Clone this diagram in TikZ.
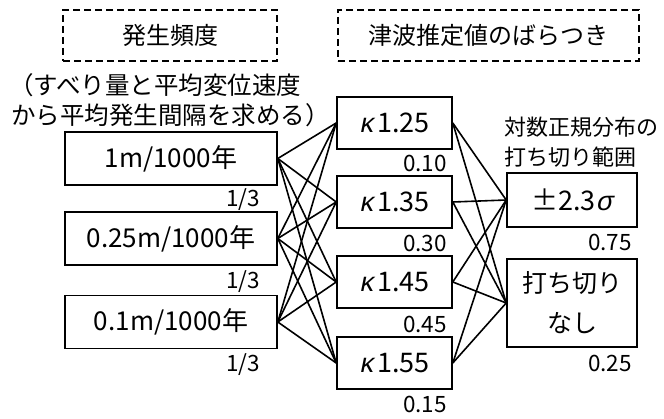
\documentclass[tikz,border=0pt]{standalone}
\usepackage{fontspec}
\setmainfont{Noto Sans CJK JP}
\newfontfamily\grk[FakeSlant=0.2]{Liberation Sans}
\begin{document}
\begin{tikzpicture}[x=1pt,y=-1pt,
  box/.style={draw,line width=1.6pt,inner sep=0pt},
  dbox/.style={draw,line width=1.6pt,dash pattern=on 7pt off 4pt,inner sep=0pt,font=\fontsize{24}{28}\selectfont},
  ltxt/.style={font=\fontsize{26}{30}\selectfont},
  ktxt/.style={font=\fontsize{27}{30}\selectfont},
  prob/.style={inner sep=0pt,font=\fontsize{22.5}{26}\selectfont},
  note/.style={inner sep=0pt,align=left,font=\fontsize{24.5}{30}\selectfont},
  link/.style={line width=1.6pt}]
\useasboundingbox (0,0) rectangle (664,419);
% headers
\node[dbox,minimum width=214pt,minimum height=51pt] (hA) at (170,35.5) {発生頻度};
\node[dbox,minimum width=301pt,minimum height=51pt] (hB) at (488.5,35.5) {津波推定値のばらつき};
\node[note,anchor=west] (nA1) at (9,85) {（すべり量と平均変位速度};
\node[note,anchor=west] (nA2) at (11,115) {から平均発生間隔を求める）};
\node[inner sep=0pt,anchor=west,font=\fontsize{22}{26}\selectfont] (nB1) at (504,127) {対数正規分布の};
\node[inner sep=0pt,anchor=west,font=\fontsize{22}{26}\selectfont] (nB2) at (504,157) {打ち切り範囲};
% left boxes
\node[box,ltxt,minimum width=212pt,minimum height=53pt] (L1) at (171,158.5) {1m/1000年};
\node[box,ltxt,minimum width=212pt,minimum height=53pt] (L2) at (171,238.5) {0.25m/1000年};
\node[box,ltxt,minimum width=212pt,minimum height=53pt] (L3) at (171,322) {0.1m/1000年};
\node[prob] (pL1) at (243,200) {1/3};
\node[prob] (pL2) at (243,282) {1/3};
\node[prob] (pL3) at (243,365) {1/3};
% middle boxes
\node[box,ktxt,minimum width=115pt,minimum height=52pt] (M1) at (394.5,123) {{\grk κ}\,1.25};
\node[box,ktxt,minimum width=115pt,minimum height=52pt] (M2) at (394.5,202) {{\grk κ}\,1.35};
\node[box,ktxt,minimum width=115pt,minimum height=52pt] (M3) at (394.5,282) {{\grk κ}\,1.45};
\node[box,ktxt,minimum width=115pt,minimum height=52pt] (M4) at (394.5,363) {{\grk κ}\,1.55};
\node[prob] (pM1) at (425,163) {0.10};
\node[prob] (pM2) at (425,243) {0.30};
\node[prob] (pM3) at (425,324) {0.45};
\node[prob] (pM4) at (425,404) {0.15};
% right boxes
\node[box,ktxt,minimum width=130pt,minimum height=54pt] (R1) at (572,200) {±2.3{\grk σ}};
\node[box,align=center,font=\fontsize{25}{40}\selectfont,minimum width=130pt,minimum height=88pt] (R2) at (572,303) {打ち切り\\なし};
\node[prob] (pR1) at (610,242) {0.75};
\node[prob] (pR2) at (610,363) {0.25};
% connectors
\foreach \a in {L1,L2,L3}
  \foreach \b in {M1,M2,M3,M4}
    \draw[link] (\a.east) -- (\b.west);
\foreach \a in {M1,M2,M3,M4}
  \foreach \b in {R1,R2}
    \draw[link] (\a.east) -- (\b.west);
\end{tikzpicture}
\end{document}
